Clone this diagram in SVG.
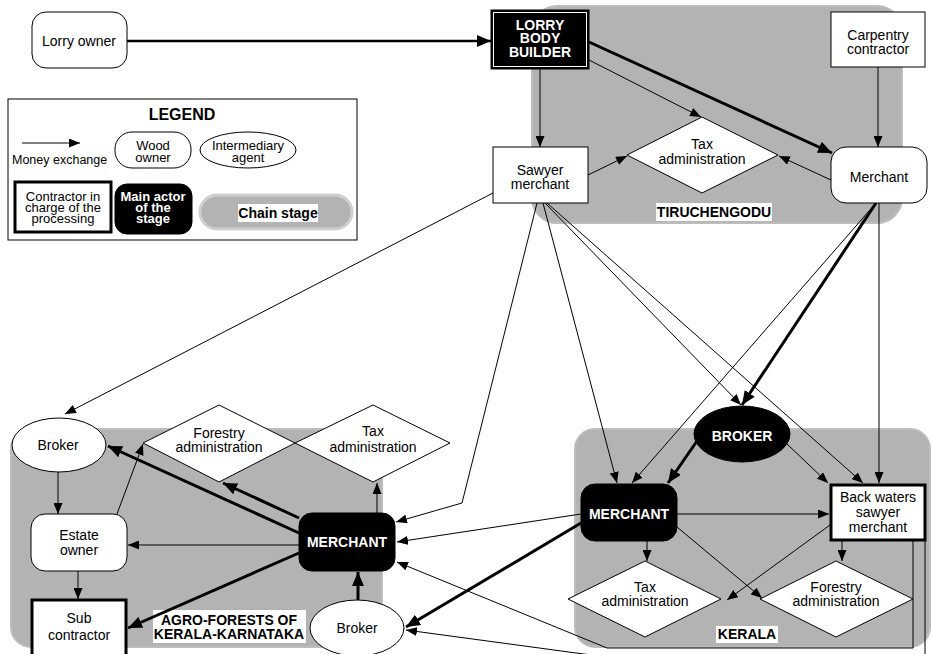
<svg xmlns="http://www.w3.org/2000/svg" width="932" height="654" viewBox="0 0 932 654">
<style>
text{font-family:"Liberation Sans",Arial,sans-serif;font-size:14px;fill:#000;text-anchor:middle}
.b{font-weight:bold}
.w{fill:#fff}
.s{font-size:13px}
.stage{fill:#b3b3b3;stroke:#bdbdbd;stroke-width:2}
.box{fill:#fff;stroke:#000;stroke-width:1}
.thickbox{fill:#fff;stroke:#000;stroke-width:3}
.blk{fill:#000;stroke:#000;stroke-width:1}
.lbl{fill:#fff}
.c{fill:none;stroke:#000;stroke-width:1}
.t{fill:none;stroke:#000;stroke-width:3}
.ca{marker-end:url(#a)}
.ta{marker-end:url(#A)}
</style>
<defs>
<marker id="a" markerWidth="11" markerHeight="9" refX="11" refY="4.5" orient="auto" markerUnits="userSpaceOnUse"><path d="M0,0 L11,4.5 L0,9 z" fill="#000"/></marker>
<marker id="A" markerWidth="14" markerHeight="12" refX="14" refY="6" orient="auto" markerUnits="userSpaceOnUse"><path d="M0,0 L14,6 L0,12 z" fill="#000"/></marker>
</defs>
<rect width="932" height="654" fill="#fff"/>

<!-- stages -->
<g id="stage-tiruchengodu">
<rect class="stage" x="532" y="6" width="370" height="217" rx="25"/>
<rect class="lbl" x="656" y="203" width="116" height="18"/>
<text class="b" x="714" y="217">TIRUCHENGODU</text>
</g>
<g id="stage-agro">
<rect class="stage" x="11" y="429" width="371" height="218" rx="20"/>
<rect class="lbl" x="153" y="610" width="153" height="33"/>
<text class="b" x="229" y="625">AGRO-FORESTS OF</text>
<text class="b" x="229" y="639">KERALA-KARNATAKA</text>
</g>
<g id="stage-kerala">
<rect class="stage" x="575" y="429" width="355" height="218" rx="20"/>
<rect class="lbl" x="716" y="626" width="62" height="17"/>
<text class="b" x="747" y="639">KERALA</text>
</g>

<!-- legend -->
<g id="legend">
<rect x="8" y="99" width="349" height="141" fill="#fff" stroke="#000" stroke-width="1"/>
<text class="b" x="182" y="120" style="font-size:16px">LEGEND</text>
<line class="c ca" x1="22" y1="143" x2="80" y2="143"/>
<text x="12" y="164" style="font-size:12.5px;text-anchor:start">Money exchange</text>
<rect class="box" x="115" y="132" width="76" height="36" rx="17"/>
<text class="s" x="153" y="150">Wood</text>
<text class="s" x="153" y="162">owner</text>
<ellipse class="box" cx="248" cy="150" rx="48" ry="18"/>
<text class="s" x="248" y="150">Intermediary</text>
<text class="s" x="248" y="162">agent</text>
<rect class="thickbox" x="15" y="182" width="96" height="50"/>
<text class="s" x="63" y="201">Contractor in</text>
<text class="s" x="63" y="212">charge of the</text>
<text class="s" x="63" y="223">processing</text>
<rect class="blk" x="115" y="184" width="77" height="50" rx="12"/>
<text class="b w s" x="153" y="201">Main actor</text>
<text class="b w s" x="153" y="212">of the</text>
<text class="b w s" x="153" y="223">stage</text>
<rect x="200" y="195" width="152" height="34" rx="17" fill="#b3b3b3" stroke="#cfcfcf" stroke-width="3"/>
<rect class="lbl" x="238" y="204" width="80" height="18"/>
<text class="b" x="278" y="218">Chain stage</text>
</g>

<!-- connectors -->
<g id="connectors">
<line class="t ta" x1="127" y1="41" x2="491" y2="41" style="stroke-width:2.5"/>
<line class="t ta" x1="589" y1="42" x2="832" y2="153"/>
<line class="t ta" x1="876" y1="203" x2="742" y2="405"/>
<line class="t ta" x1="697" y1="441" x2="668" y2="483"/>
<line class="t ta" x1="581" y1="523" x2="406" y2="627"/>
<line class="t ta" x1="299" y1="533" x2="108" y2="446"/>
<line class="t ta" x1="299" y1="518" x2="223" y2="483"/>
<line class="t ta" x1="299" y1="553" x2="128" y2="628"/>
<line class="t ta" x1="358" y1="600" x2="358" y2="572"/>

<line class="c ca" x1="540" y1="69" x2="540" y2="147"/>
<line class="c ca" x1="589" y1="60" x2="701" y2="117"/>
<line class="c ca" x1="878" y1="67" x2="878" y2="147"/>
<line class="c ca" x1="588" y1="175" x2="627" y2="156"/>
<line class="c ca" x1="831" y1="180" x2="779" y2="156"/>
<line class="c ca" x1="493" y1="193" x2="65" y2="414"/>
<polyline class="c ca" points="537,203 462,503 396,522"/>
<line class="c ca" x1="543" y1="203" x2="617" y2="483"/>
<line class="c ca" x1="545" y1="203" x2="741" y2="405"/>
<line class="c ca" x1="547" y1="203" x2="863" y2="483"/>
<line class="c ca" x1="876" y1="203" x2="632" y2="483"/>
<line class="c ca" x1="879" y1="203" x2="879" y2="483"/>
<line class="c ca" x1="787" y1="444" x2="828" y2="483"/>
<line class="c ca" x1="677" y1="514" x2="829" y2="514"/>
<line class="c ca" x1="647" y1="541" x2="647" y2="561"/>
<line class="c ca" x1="677" y1="527" x2="762" y2="598"/>
<line class="c ca" x1="830" y1="525" x2="727" y2="600"/>
<line class="c ca" x1="842" y1="541" x2="842" y2="561"/>
<polyline class="c ca" points="913,541 913,648 607,648 397,562"/>
<polyline class="c ca" points="925,541 925,670 702,670 406,630"/>
<line class="c ca" x1="581" y1="514" x2="397" y2="542"/>
<line class="c ca" x1="58" y1="472" x2="58" y2="514"/>
<line class="c ca" x1="78" y1="571" x2="78" y2="599"/>
<line class="c ca" x1="117" y1="514" x2="143" y2="444"/>
<line class="c ca" x1="299" y1="545" x2="128" y2="545"/>
<line class="c ca" x1="377" y1="513" x2="377" y2="483"/>
</g>

<!-- nodes -->
<g id="lorry-owner">
<rect class="box" x="32" y="12" width="95" height="56" rx="14"/>
<text x="79" y="46">Lorry owner</text>
</g>
<g id="lorry-body-builder">
<rect x="491" y="10" width="98" height="59" fill="#000" stroke="#000"/>
<rect x="493.5" y="12.5" width="93" height="54" fill="none" stroke="#fff" stroke-width="1"/>
<text class="b w" x="540" y="30">LORRY</text>
<text class="b w" x="540" y="43">BODY</text>
<text class="b w" x="540" y="57">BUILDER</text>
</g>
<g id="carpentry-contractor">
<rect class="box" x="831" y="12" width="94" height="55"/>
<text x="878" y="40">Carpentry</text>
<text x="878" y="54">contractor</text>
</g>
<g id="sawyer-merchant">
<rect class="box" x="493" y="147" width="95" height="56"/>
<text x="540" y="175">Sawyer</text>
<text x="540" y="189">merchant</text>
</g>
<g id="tax-tiruchengodu">
<polygon class="box" points="702,117 778,155 702,193 627,155"/>
<text x="702" y="149">Tax</text>
<text x="702" y="164">administration</text>
</g>
<g id="merchant-tiruchengodu">
<rect class="box" x="831" y="147" width="96" height="56" rx="15"/>
<text x="879" y="182">Merchant</text>
</g>

<g id="broker-left">
<ellipse class="box" cx="59" cy="445" rx="47" ry="27"/>
<text x="58" y="450">Broker</text>
</g>
<g id="forestry-agro">
<polygon class="box" points="219,405 295,443 219,482 143,443"/>
<text x="219" y="438">Forestry</text>
<text x="219" y="452">administration</text>
</g>
<g id="tax-agro">
<polygon class="box" points="373,405 450,443 373,482 295,443"/>
<text x="373" y="436">Tax</text>
<text x="373" y="452">administration</text>
</g>
<g id="estate-owner">
<rect class="box" x="31" y="514" width="96" height="57" rx="14"/>
<text x="79" y="540">Estate</text>
<text x="79" y="555">owner</text>
</g>
<g id="sub-contractor">
<rect class="thickbox" x="32" y="600" width="94" height="60"/>
<text x="79" y="623">Sub</text>
<text x="79" y="640">contractor</text>
</g>
<g id="merchant-agro">
<rect class="blk" x="299" y="513" width="96" height="58" rx="13"/>
<text class="b w" x="347" y="547">MERCHANT</text>
</g>
<g id="broker-bottom">
<ellipse class="box" cx="357" cy="628" rx="47" ry="28"/>
<text x="357" y="633">Broker</text>
</g>

<g id="broker-kerala">
<ellipse class="blk" cx="742" cy="434" rx="48" ry="28"/>
<text class="b w" x="742" y="441">BROKER</text>
</g>
<g id="merchant-kerala">
<rect class="blk" x="581" y="484" width="96" height="57" rx="14"/>
<text class="b w" x="629" y="519">MERCHANT</text>
</g>
<g id="backwaters-sawyer">
<rect class="thickbox" x="831" y="485" width="94" height="55"/>
<text x="878" y="502">Back waters</text>
<text x="878" y="517">sawyer</text>
<text x="878" y="532">merchant</text>
</g>
<g id="tax-kerala">
<polygon class="box" points="645,561 721,599 645,637 568,599"/>
<text x="645" y="592">Tax</text>
<text x="645" y="606">administration</text>
</g>
<g id="forestry-kerala">
<polygon class="box" points="836,561 913,599 836,637 760,599"/>
<text x="836" y="592">Forestry</text>
<text x="836" y="606">administration</text>
</g>
</svg>
